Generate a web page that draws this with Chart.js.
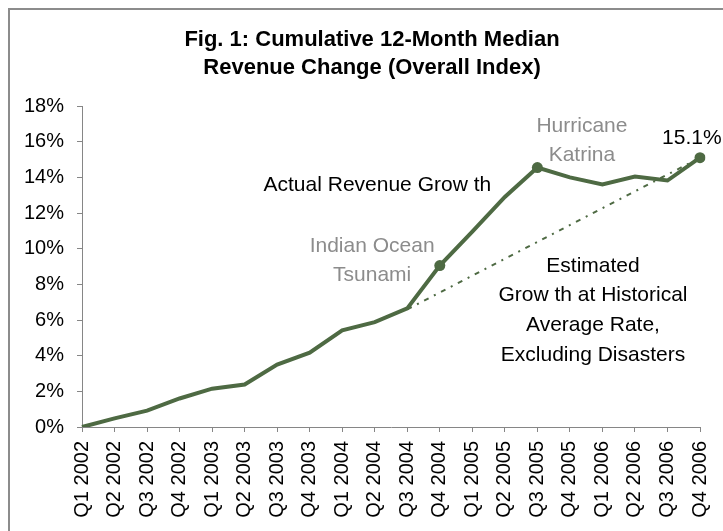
<!DOCTYPE html>
<html>
<head>
<meta charset="utf-8">
<script src="https://cdn.jsdelivr.net/npm/chart.js@4.4.1/dist/chart.umd.min.js"></script>
<style>
  body { margin: 0; background: #fff; }
  #wrap { position: relative; width: 723px; height: 531px; overflow: hidden; }
  #frame { position: absolute; left: 8px; top: 8px; right: 0; bottom: 0; border-left: 2px solid #8c8c8c; border-top: 2px solid #8c8c8c; pointer-events: none; }
</style>
</head>
<body>
<div id="wrap">
  <canvas id="revenueChart" width="723" height="531"></canvas>
  <div id="frame"></div>
</div>
<script>
var quarters = ['Q1 2002', 'Q2 2002', 'Q3 2002', 'Q4 2002', 'Q1 2003', 'Q2 2003', 'Q3 2003', 'Q4 2003',
                'Q1 2004', 'Q2 2004', 'Q3 2004', 'Q4 2004', 'Q1 2005', 'Q2 2005', 'Q3 2005', 'Q4 2005',
                'Q1 2006', 'Q2 2006', 'Q3 2006', 'Q4 2006'];
var actualGrowth = [0, 0.48, 0.92, 1.6, 2.15, 2.38, 3.5, 4.17, 5.42, 5.88, 6.65, 9.05,
                    10.95, 12.9, 14.55, 14.0, 13.6, 14.05, 13.82, 15.1];
// trend line from Q3 2004 to Q4 2006 (only the two ends are known)
var estimatedGrowth = [null, null, null, null, null, null, null, null, null, null, 6.6,
                       null, null, null, null, null, null, null, null, 15.1];
var yTicks = [0, 2, 4, 6, 8, 10, 12, 14, 16, 18];
var markedQuarters = ['Q4 2004', 'Q3 2005', 'Q4 2006'];

var green = '#4E6A43';
var grey = '#8C8C8C';
var axisColor = '#868686';
var font = 'Liberation Sans, Arial, sans-serif';

// text notes placed in data units (x = category index, y = percent)
var notes = [
  { lines: ['Hurricane', 'Katrina'], x: 15.37, y: 16.88, color: grey },
  { lines: ['15.1%'], x: 18.75, y: 16.18, color: '#000' },
  { lines: ['Actual Revenue Grow th'], x: 9.08, y: 13.57, color: '#000' },
  { lines: ['Indian Ocean', 'Tsunami'], x: 8.92, y: 10.15, color: grey },
  { lines: ['Estimated', 'Grow th at Historical', 'Average Rate,', 'Excluding Disasters'], x: 15.71, y: 9.03, color: '#000' }
];

var notesPlugin = {
  id: 'notes',
  afterDraw: function(chart) {
    var ctx = chart.ctx;
    var xs = chart.scales.x, ys = chart.scales.y;
    ctx.save();
    ctx.textAlign = 'center';
    ctx.textBaseline = 'middle';

    // title
    ctx.fillStyle = '#000';
    ctx.font = 'bold 22px ' + font;
    ctx.fillText('Fig. 1: Cumulative 12-Month Median', 372, 40);
    ctx.fillText('Revenue Change (Overall Index)', 372, 68);

    ctx.font = '21px ' + font;
    notes.forEach(function(n) {
      var px = xs.left + (xs.right - xs.left) * n.x / (quarters.length - 1);
      var py = ys.getPixelForValue(n.y);
      ctx.fillStyle = n.color;
      n.lines.forEach(function(line, i) {
        ctx.fillText(line, px, py + i * 29.6);
      });
    });
    ctx.restore();
  }
};

var ctx = document.getElementById('revenueChart').getContext('2d');
new Chart(ctx, {
  type: 'line',
  data: {
    labels: quarters,
    datasets: [{
      label: 'Actual Revenue Growth',
      data: actualGrowth,
      borderColor: green,
      backgroundColor: green,
      borderWidth: 4,
      tension: 0,
      order: 0,
      pointRadius: quarters.map(function(q) { return markedQuarters.indexOf(q) >= 0 ? 5.5 : 0; }),
      pointBorderWidth: 0,
      pointBackgroundColor: green
    }, {
      label: 'Estimated Growth',
      data: estimatedGrowth,
      spanGaps: true,
      borderColor: green,
      borderWidth: 2,
      borderDash: [5, 6, 2, 6],
      pointRadius: 0,
      order: 1
    }]
  },
  options: {
    responsive: false,
    animation: false,
    devicePixelRatio: 1,
    layout: { padding: { top: 106, right: 23, left: 0, bottom: 0 } },
    plugins: {
      legend: { display: false },
      tooltip: { enabled: false }
    },
    scales: {
      x: {
        offset: false,
        grid: { drawOnChartArea: false, tickLength: 5, color: axisColor, offset: false },
        border: { color: axisColor, width: 1 },
        ticks: {
          minRotation: 90, maxRotation: 90, autoSkip: false, padding: 9,
          color: '#000', font: { family: font, size: 20 }
        },
        afterFit: function(scale) {
          scale.height = 104;
          scale.paddingLeft = 0;
          scale.paddingRight = 0;
        }
      },
      y: {
        min: 0,
        max: 18,
        afterBuildTicks: function(scale) { scale.ticks = yTicks.map(function(v) { return { value: v }; }); },
        grid: { drawOnChartArea: false, tickLength: 5, color: axisColor },
        border: { color: axisColor, width: 1 },
        ticks: {
          padding: 13, color: '#000', font: { family: font, size: 20 },
          callback: function(v) { return v + '%'; }
        },
        afterFit: function(scale) {
          scale.width = 82;
          scale.paddingTop = 0;
          scale.paddingBottom = 0;
        }
      }
    }
  },
  plugins: [notesPlugin]
});
</script>
</body>
</html>
